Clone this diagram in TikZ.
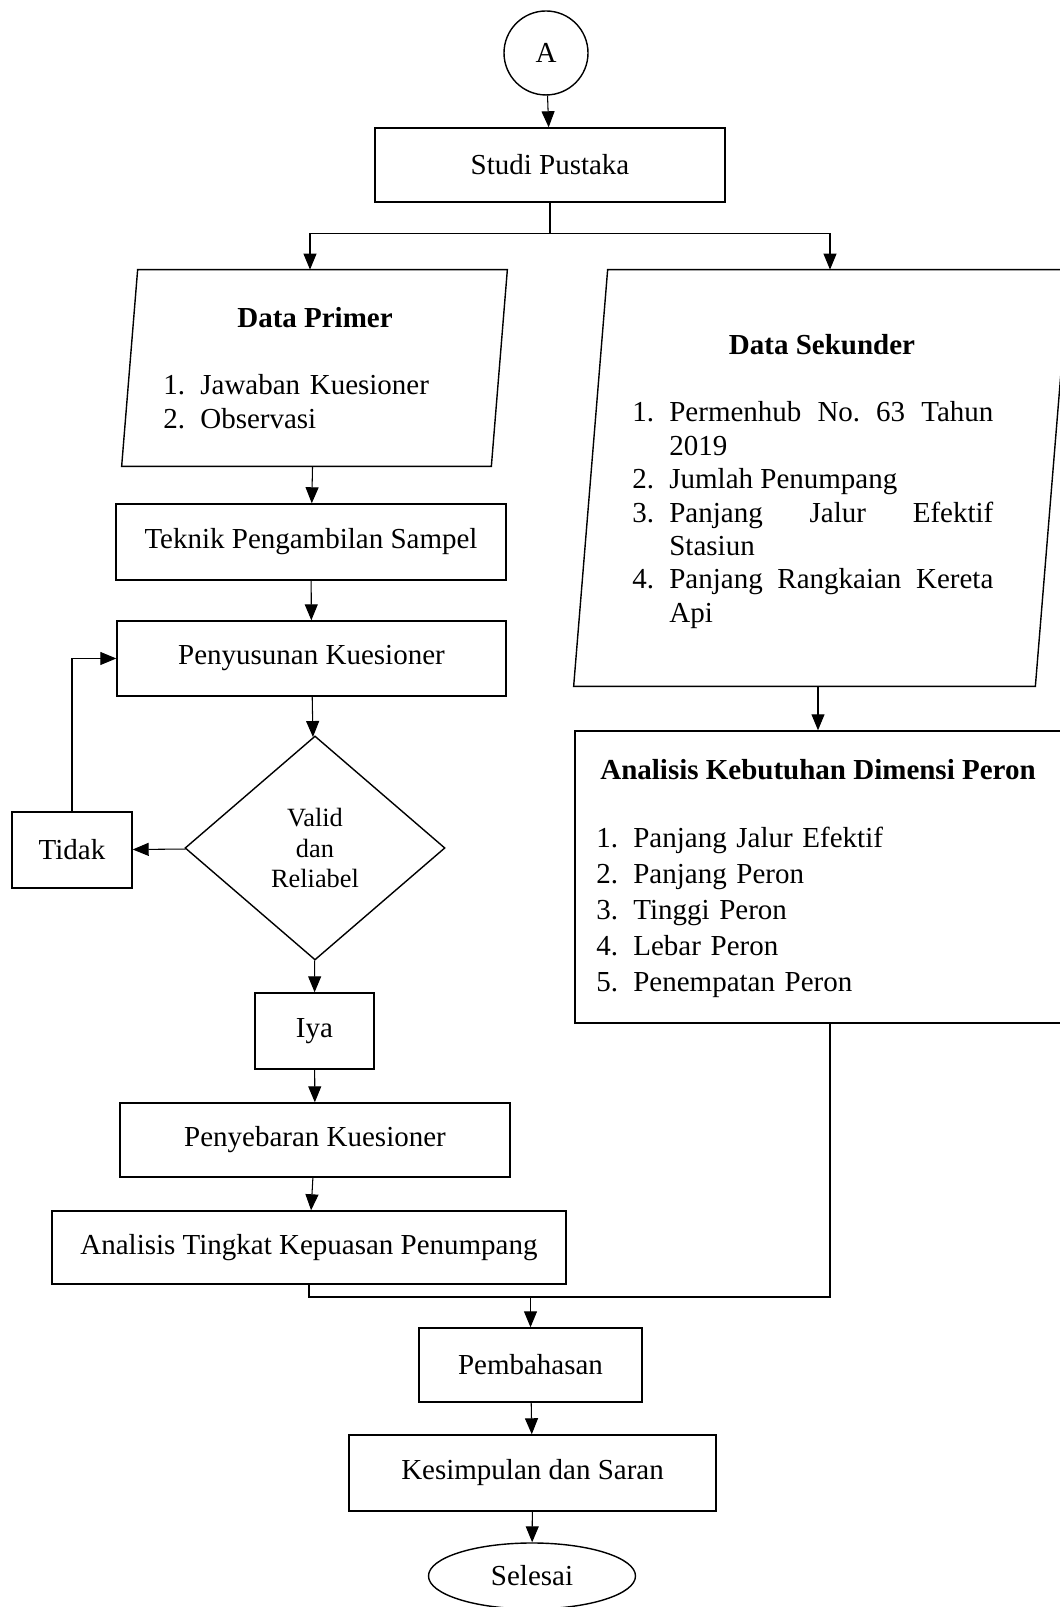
\documentclass[tikz,border=0pt]{standalone}
\usepackage{fontspec}
\setmainfont{Liberation Serif}
\usetikzlibrary{shapes.geometric,arrows.meta,calc}
\hyphenpenalty=10000
\tolerance=10000
\newcommand{\butir}[1]{\noindent\hangindent=0.74cm\hangafter=1\makebox[0.74cm][l]{#1}}
\tikzset{
  proses/.style={draw,line width=.8pt,rectangle,inner sep=0,font=\fontsize{16.5}{19}\selectfont},
  dataio/.style={rectangle,inner sep=0},
  keputusan/.style={draw,line width=.8pt,diamond,inner sep=0,align=center,font=\fontsize{15}{17.3}\selectfont},
  terminal/.style={draw,line width=.8pt,ellipse,inner sep=0,font=\fontsize{16.5}{19}\selectfont},
  judul/.style={anchor=base,inner sep=0,font=\fontsize{16.5}{19}\selectfont\bfseries},
  daftar/.style={anchor=base west,inner sep=0,align=left,font=\fontsize{16.5}{19}\selectfont},
  alur/.style={line width=.6pt,->},
}
\begin{document}
\begin{tikzpicture}[>={Triangle[length=0.32cm,width=0.26cm]}]
\useasboundingbox(0,0)rectangle(21.2,32.14);
%start
\node[terminal,circle,minimum size=1.68cm](mulai)at(10.92,31.08){A};
\node[proses,minimum width=7cm,minimum height=1.48cm](studi)at(11,28.84){Studi Pustaka};
%data
\node[dataio,minimum width=7.38cm,minimum height=3.92cm](primer)at(6.29,24.78){};
\draw[line width=.8pt]([xshift=.16cm]primer.north west)--([xshift=.16cm]primer.north east)
  --([xshift=-.16cm]primer.south east)--([xshift=-.16cm]primer.south west)--cycle;
\node[dataio,minimum width=9.22cm,minimum height=8.32cm](sekunder)at(16.43,22.58){};
\draw[line width=.8pt]([xshift=.34cm]sekunder.north west)--([xshift=.34cm]sekunder.north east)
  --([xshift=-.34cm]sekunder.south east)--([xshift=-.34cm]sekunder.south west)--cycle;
\node[judul](jprimer)at(6.3,25.58){Data Primer};
\node[daftar,text width=6cm](lprimer)at(3.26,24.24){\butir{1.}Jawaban Kuesioner\par\butir{2.}Observasi};
\node[judul](jsekunder)at(16.44,25.04){Data Sekunder};
\node[daftar,text width=7.22cm,align=justify](lsekunder)at(12.64,23.70){\butir{1.}Permenhub No.\ 63 Tahun 2019\par\butir{2.}Jumlah Penumpang\par\butir{3.}Panjang Jalur Efektif Stasiun\par\butir{4.}Panjang Rangkaian Kereta Api\par};
%kuesioner
\node[proses,minimum width=7.8cm,minimum height=1.52cm](teknik)at(6.22,21.3){Teknik Pengambilan Sampel};
\node[proses,minimum width=7.78cm,minimum height=1.5cm](susun)at(6.23,18.97){Penyusunan Kuesioner};
\node[keputusan,minimum width=5.2cm,minimum height=4.48cm](valid)at(6.3,15.18){Valid\\dan\\Reliabel};
\node[proses,minimum width=2.4cm,minimum height=1.52cm](tidak)at(1.44,15.14){Tidak};
\node[proses,minimum width=2.38cm,minimum height=1.52cm](iya)at(6.29,11.52){Iya};
\node[proses,minimum width=7.8cm,minimum height=1.48cm](sebar)at(6.3,9.34){Penyebaran Kuesioner};
\node[proses,minimum width=10.28cm,minimum height=1.46cm](tingkat)at(6.18,7.19){Analisis Tingkat Kepuasan Penumpang};
%peron
\node[proses,minimum width=9.86cm,minimum height=5.84cm](kebutuhan)at(16.43,14.6){};
\node[judul](jkebutuhan)at(16.36,16.54){Analisis Kebutuhan Dimensi Peron};
\node[daftar,text width=8cm,font=\fontsize{16.5}{20.4}\selectfont](lkebutuhan)at(11.92,15.18){\butir{1.}Panjang Jalur Efektif\par\butir{2.}Panjang Peron\par\butir{3.}Tinggi Peron\par\butir{4.}Lebar Peron\par\butir{5.}Penempatan Peron};
%akhir
\node[proses,minimum width=4.46cm,minimum height=1.48cm](bahas)at(10.61,4.84){Pembahasan};
\node[proses,minimum width=7.34cm,minimum height=1.52cm](simpul)at(10.65,2.68){Kesimpulan dan Saran};
\node[terminal,minimum width=4.14cm,minimum height=1.32cm](selesai)at(10.64,0.62){Selesai};
%arrows
\draw[alur](mulai)--(studi);
\draw[line width=.6pt](studi.south)--++(0,-0.62)coordinate(cabang);
\draw[alur](cabang)-|([xshift=-.09cm]primer.north);
\draw[alur](cabang)-|([xshift=.17cm]sekunder.north);
\draw[alur](primer)--(teknik);
\draw[alur](teknik)--(susun);
\draw[alur](susun)--(valid);
\draw[alur](valid)--(tidak);
\draw[alur](tidak.north)|-(susun.west);
\draw[alur](valid)--(iya);
\draw[alur](iya)--(sebar);
\draw[alur](sebar)--(tingkat);
\draw[alur]([xshift=-.07cm]sekunder.south)--([xshift=-.07cm]kebutuhan.north);
\coordinate(gabung)at(bahas.north|-0,6.2);
\draw[line width=.6pt](tingkat.south)|-(gabung)-|([xshift=.17cm]kebutuhan.south);
\draw[alur](gabung)--(bahas);
\draw[alur](bahas)--(simpul);
\draw[alur](simpul)--(selesai);
\end{tikzpicture}
\end{document}
